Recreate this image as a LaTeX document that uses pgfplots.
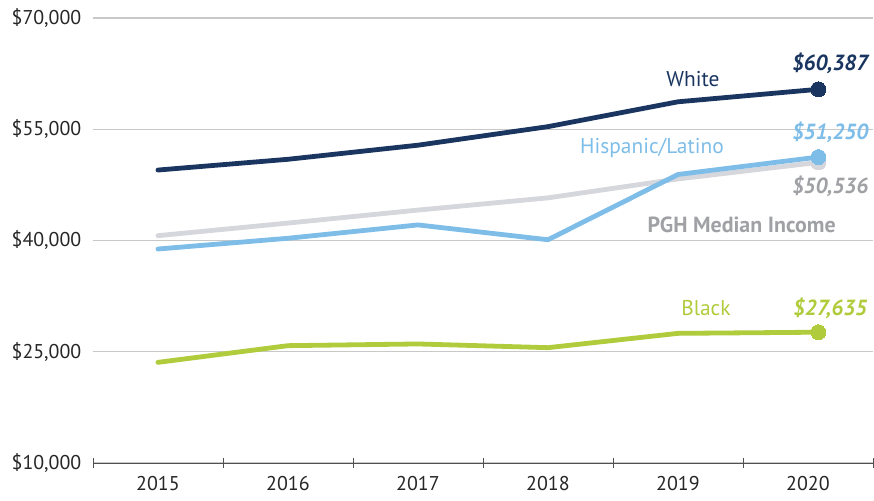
\documentclass[border=0pt]{standalone}
\usepackage{pgfplots}
\pgfplotsset{compat=1.18}
\usepackage{fontspec}
\setmainfont{PT Sans}
\definecolor{navy}{RGB}{26,54,96}
\definecolor{lblue}{RGB}{125,189,232}
\definecolor{lgray}{RGB}{214,215,221}
\definecolor{tgray}{RGB}{160,161,165}
\definecolor{lgreen}{RGB}{176,203,60}
\definecolor{gridc}{RGB}{200,200,200}
\definecolor{axc}{RGB}{80,80,80}
\begin{document}
\begin{tikzpicture}
\begin{axis}[
  scale only axis, width=780bp, height=445bp,
  xmin=-0.5, xmax=5.5, ymin=10000, ymax=70000,
  clip=false,
  /pgf/number format/assume math mode=true,
  scaled y ticks=false,
  font=\fontsize{20}{24}\selectfont,
  axis x line=bottom, axis y line=left,
  axis line style={-},
  x axis line style={draw=axc, line width=0.8pt},
  y axis line style={draw=none},
  xtick={0,1,2,3,4,5},
  xticklabels={2015,2016,2017,2018,2019,2020},
  minor xtick={-0.5,0.5,1.5,2.5,3.5,4.5,5.5},
  major x tick style={draw=none},
  minor x tick style={draw=axc, line width=0.8pt},
  minor tick length=10bp,
  tick align=center,
  ytick={10000,25000,40000,55000,70000},
  yticklabels={{\$10,000},{\$25,000},{\$40,000},{\$55,000},{\$70,000}},
  ytick style={draw=none},
  ymajorgrids,
  major grid style={draw=gridc, line width=1.2pt},
  yticklabel style={anchor=east, xshift=-6bp, text=black!85},
  xticklabel style={anchor=north, yshift=-8bp, text=black!85},
  every axis plot/.append style={line width=4.8bp, line cap=round, line join=round},
]
\addplot[lgray, mark=*, mark size=7.5bp, mark indices={6}, mark options={line width=0pt}] coordinates {
 (0,40650) (1,42350) (2,44100) (3,45750) (4,48300) (5.08,50536)};
\addplot[lblue, mark=*, mark size=7.5bp, mark indices={6}, mark options={line width=0pt}] coordinates {
 (0,38850) (1,40300) (2,42100) (3,40100) (4,48900) (5.08,51250)};
\addplot[navy, mark=*, mark size=7.5bp, mark indices={6}, mark options={line width=0pt}] coordinates {
 (0,49500) (1,50950) (2,52850) (3,55350) (4,58700) (5.08,60387)};
\addplot[lgreen, mark=*, mark size=7.5bp, mark indices={6}, mark options={line width=0pt}] coordinates {
 (0,23570) (1,25820) (2,26050) (3,25550) (4,27480) (5.08,27635)};
\tikzset{lab/.style={font=\fontsize{21.5}{25}\selectfont},
         val/.style={font=\fontsize{22}{26}\selectfont\bfseries\itshape}}
\node[val, text=navy] at (axis cs:5.17,63930) {\$60,387};
\node[lab, text=navy] at (axis cs:4.115,61775) {White};
\node[lab, text=lblue] at (axis cs:3.80,52470) {Hispanic/Latino};
\node[val, text=lblue] at (axis cs:5.17,54630) {\$51,250};
\node[val, text=tgray] at (axis cs:5.17,47350) {\$50,536};
\node[lab, text=tgray, font=\fontsize{22}{26}\selectfont\bfseries] at (axis cs:4.49,42090) {PGH Median Income};
\node[lab, text=lgreen] at (axis cs:4.215,30900) {Black};
\node[val, text=lgreen] at (axis cs:5.17,30900) {\$27,635};
\coordinate (bl) at (axis cs:-1.215,5011);
\coordinate (tr) at (axis cs:5.508,72427);
\end{axis}
\pgfresetboundingbox
\path (bl) rectangle (tr);
\end{tikzpicture}
\end{document}
